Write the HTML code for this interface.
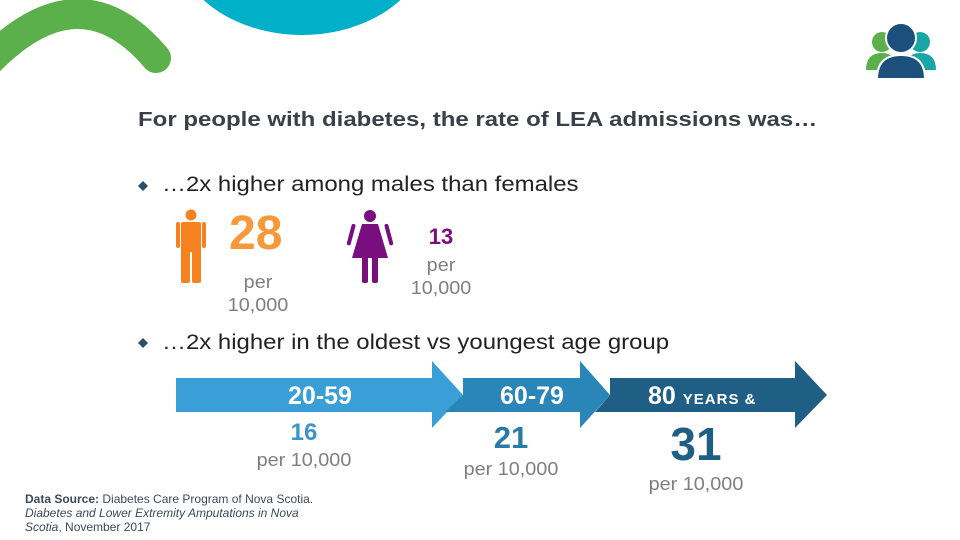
<!DOCTYPE html>
<html><head><meta charset="utf-8"><style>
body{margin:0;width:960px;height:540px;overflow:hidden;background:#fff;position:relative;font-family:"Liberation Sans",sans-serif}
.a{position:absolute;white-space:nowrap;line-height:1}
.c{transform:translateX(-50%)}
.g{color:#7f7f7f;font-size:18px;transform:translateX(-50%) scaleX(1.1)}
.w{color:#fff;font-weight:bold}
.s{transform-origin:0 0}
</style></head><body>
<svg width="960" height="540" style="position:absolute;left:0;top:0">
<path d="M -12 62 Q 80 -32 156 58" stroke="#5bb04b" stroke-width="30" fill="none" stroke-linecap="round"/>
<ellipse cx="302" cy="-62" rx="128" ry="97" fill="#00afc8"/>
<g>
<circle cx="882" cy="42" r="10" fill="#5bb04b"/><path d="M866 70 Q866 53 882 53 Q897 53 897 70 Z" fill="#5bb04b"/>
<circle cx="920" cy="42" r="10" fill="#1aa6a6"/><path d="M905 70 Q905 53 920 53 Q936 53 936 70 Z" fill="#1aa6a6"/>
<circle cx="901" cy="38" r="15" fill="#1d4f7c" stroke="#fff" stroke-width="2"/><path d="M877 79 Q877 55 901 55 Q925 55 925 79 Z" fill="#1d4f7c" stroke="#fff" stroke-width="2"/>
</g>
<path d="M143 181 L148 186 L143 191 L138 186 Z" fill="#2c4d6a"/>
<path d="M143 338 L148 343 L143 348 L138 343 Z" fill="#2c4d6a"/>
<g fill="#f5821f">
<circle cx="191" cy="215" r="5.5"/><rect x="176" y="222" width="4" height="26" rx="2"/><rect x="202" y="222" width="4" height="26" rx="2"/>
<rect x="181" y="222" width="20" height="30" rx="2"/><rect x="181" y="248" width="9" height="35" rx="2"/><rect x="192" y="248" width="9" height="35" rx="2"/>
</g>
<g fill="#7b0e7e">
<circle cx="370" cy="216" r="6"/><path d="M362 224 L378 224 L388 258 L352 258 Z"/><rect x="352" y="224" width="4" height="22" rx="2" transform="rotate(15 354 224)"/><rect x="384" y="224" width="4" height="22" rx="2" transform="rotate(-15 386 224)"/>
<rect x="362" y="256" width="6" height="27" rx="2"/><rect x="372" y="256" width="6" height="27" rx="2"/>
</g>
<path d="M176 378 L432 378 L432 361 L463 395 L432 428 L432 412 L176 412 Z" fill="#3a9fd6"/>
<path d="M463 378 L580 378 L580 361 L610 395 L580 428 L580 412 L445 412 L463 395 Z" fill="#2a85b8"/>
<path d="M610 378 L795 378 L795 361 L827 395 L795 428 L795 412 L595 412 L610 395 Z" fill="#1f5f86"/>
</svg>
<div class="a s" style="left:138px;top:110px;font-size:20px;font-weight:bold;color:#3a3f48;transform:scaleX(1.2)">For people with diabetes, the rate of LEA admissions was…</div>
<div class="a s" style="left:162px;top:174px;font-size:21px;color:#222;transform:scaleX(1.14)">…2x higher among males than females</div>
<div class="a" style="left:229px;top:210px;font-size:48px;font-weight:bold;color:#f7983a">28</div>
<div class="a g" style="left:258px;top:271px;text-align:center;line-height:23px">per<br>10,000</div>
<div class="a c" style="left:441px;top:226px;font-size:22px;font-weight:bold;color:#7b0e7e">13</div>
<div class="a g" style="left:441px;top:254px;text-align:center;line-height:23px">per<br>10,000</div>
<div class="a s" style="left:162px;top:332px;font-size:21px;color:#222;transform:scaleX(1.14)">…2x higher in the oldest vs youngest age group</div>
<div class="a c w" style="left:320px;top:384px;font-size:25px">20-59</div>
<div class="a c w" style="left:532px;top:384px;font-size:25px">60-79</div>
<div class="a w" style="left:648px;top:384px;font-size:25px">80 <span style="font-size:15px;letter-spacing:1px">YEARS &amp;</span></div>
<div class="a c" style="left:304px;top:421px;font-size:24px;font-weight:bold;color:#3a95c8">16</div>
<div class="a g" style="left:304px;top:451px">per 10,000</div>
<div class="a c" style="left:511px;top:422px;font-size:31px;font-weight:bold;color:#2a7aa8">21</div>
<div class="a g" style="left:511px;top:460px">per 10,000</div>
<div class="a c" style="left:696px;top:421px;font-size:46px;font-weight:bold;color:#1f5f86">31</div>
<div class="a g" style="left:696px;top:475px">per 10,000</div>
<div class="a" style="left:25px;top:492px;font-size:12px;color:#3a4a5a;line-height:14px;white-space:normal;width:300px"><b>Data Source:</b> Diabetes Care Program of Nova Scotia.<br><i>Diabetes and Lower Extremity Amputations in Nova Scotia</i>, November 2017</div>
</body></html>
